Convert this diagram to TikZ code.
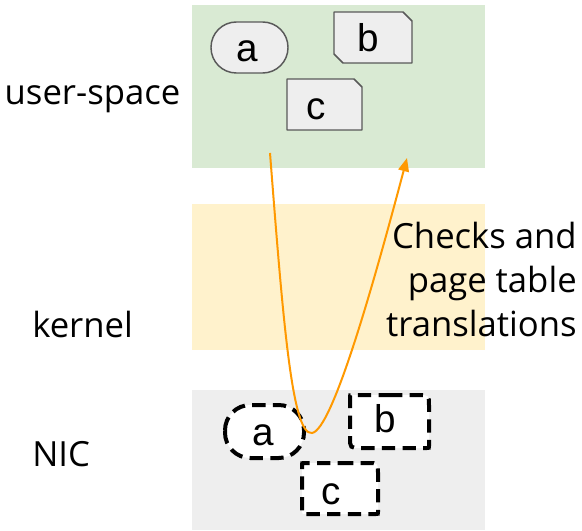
\documentclass[tikz,border=0pt]{standalone}
\usepackage{fontspec}
\setmainfont{Open Sans}
\newfontfamily\shapefont{Liberation Sans}
\usetikzlibrary{arrows.meta}
\definecolor{usergreen}{HTML}{D9EAD3}
\definecolor{kernelyellow}{HTML}{FFF2CC}
\definecolor{nicgray}{HTML}{EEEEEE}
\definecolor{edgegray}{HTML}{595959}
\definecolor{pathorange}{HTML}{FF9900}
\tikzset{
  layer/.style={draw=none},
  layerlabel/.style={font=\fontsize{26}{31}\selectfont, inner sep=0pt},
  hostbuf/.style={draw=edgegray, fill=nicgray, line width=1.1pt, line join=round},
  nicbuf/.style={draw=black, fill=white, line width=3pt, dash pattern=on 10pt off 5.5pt},
  buflabel/.style={font=\shapefont\fontsize{29}{34}\selectfont, inner sep=0pt, anchor=base},
  datapath/.style={draw=pathorange, line width=1.5pt, -{Triangle[length=10pt,width=8pt]}}
}
\begin{document}
\begin{tikzpicture}[x=0.75pt, y=-0.75pt]
  \useasboundingbox (0,0) rectangle (582,531);

  % address-space layers
  \fill[usergreen]    (192,5)   rectangle (485,168);
  \fill[kernelyellow] (192,204) rectangle (485,350);
  \fill[nicgray]      (192,390) rectangle (485,530);

  \node[layerlabel, anchor=base] (user) at (92.5,105) {user-space};
  \node[layerlabel, anchor=base west] (kernel) at (32,337) {kernel};
  \node[layerlabel, anchor=base west] (nic) at (32,466) {NIC};

  % buffers in user space
  \draw[hostbuf, rounded corners=19pt] (211,22) rectangle (288,73);
  \draw[hostbuf] (334,12) -- (403,12) -- (412,21) -- (412,63) -- (343,63) -- (334,54) -- cycle;
  \draw[hostbuf] (287,79) -- (354,79) -- (362,87) -- (362,130) -- (287,130) -- cycle;
  \node[buflabel] (ua) at (247,62) {a};
  \node[buflabel] (ub) at (368,52) {b};
  \node[buflabel] (uc) at (316,120) {c};

  % buffers mirrored on the NIC
  \draw[nicbuf, rounded corners=19pt] (225,405) rectangle (304,458);
  \draw[nicbuf] (389,395) -- (418,395) .. controls (429,395) .. (429,406)
     -- (429,446) .. controls (429,448) .. (427,448)
     -- (361,448) .. controls (350,448) .. (350,437)
     -- (350,397) .. controls (350,395) .. (352,395) -- cycle;
  \draw[nicbuf] (340,463) -- (368,463) .. controls (378,463) .. (378,473)
     -- (378,512) .. controls (378,514) .. (376,514)
     -- (305,514) .. controls (302,514) .. (302,511)
     -- (302,465) .. controls (302,463) .. (304,463) -- cycle;
  \node[buflabel] (na) at (263,445) {a};
  \node[buflabel] (nb) at (385,432) {b};
  \node[buflabel] (nc) at (331,504) {c};

  % access path through the kernel
  \coordinate (from) at (270,153);
  \coordinate (turn) at (312,433);
  \coordinate (to)   at (407,158);
  \draw[datapath] (from) .. controls (283,320) and (292,436) .. (turn)
     .. controls (332,430) and (372,290) .. (to);

  \node[layerlabel, align=right, anchor=base east] (checks) at (577,248)
    {Checks and};
  \node[layerlabel, anchor=base east] (pages) at (577,292) {page table};
  \node[layerlabel, anchor=base east] (trans) at (577,336) {translations};
\end{tikzpicture}
\end{document}
